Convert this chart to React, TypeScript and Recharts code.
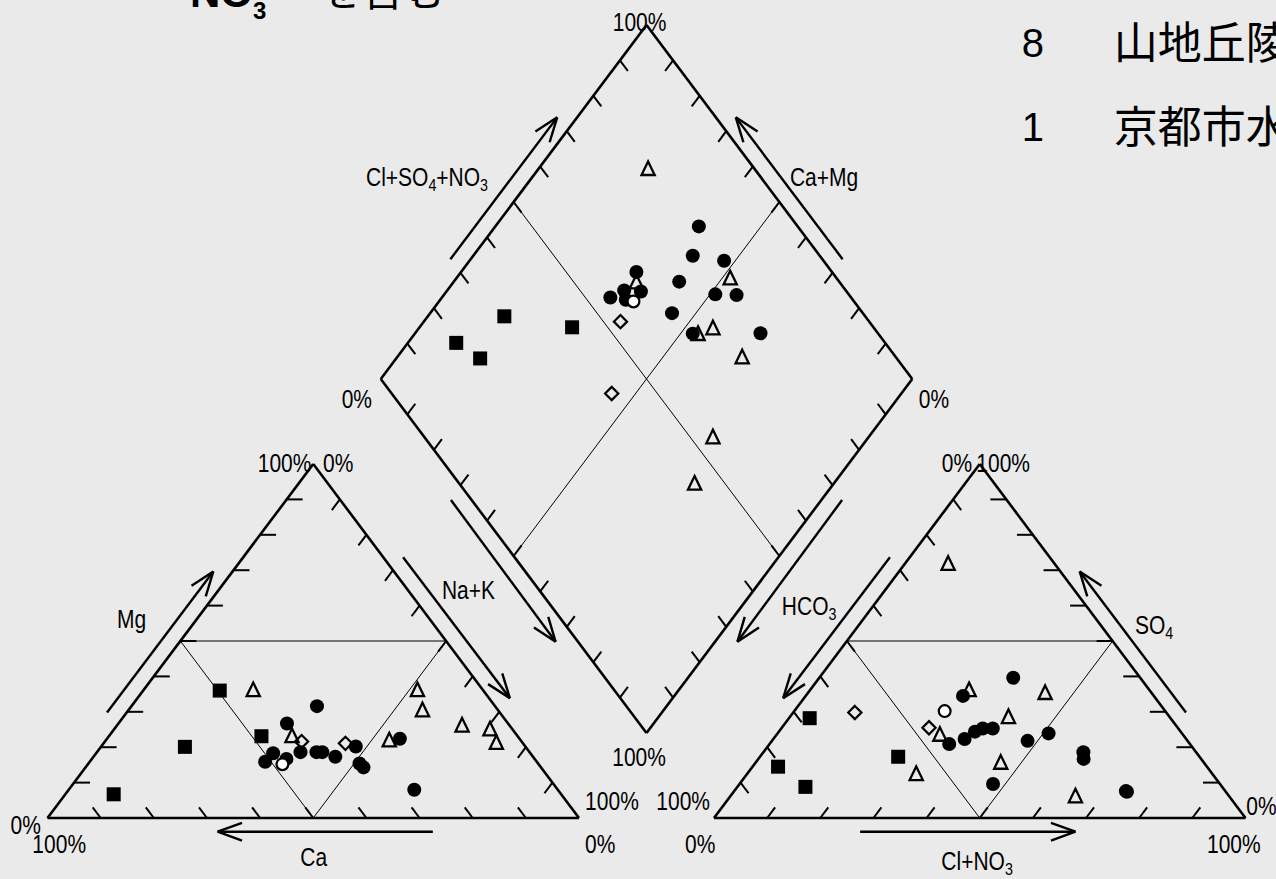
import { ScatterChart, Scatter, XAxis, YAxis, ReferenceLine, ReferenceDot } from "recharts"

// meq%, one row per sample:
// Ca, Mg, Na+K, HCO3, SO4, Cl+NO3
const filledCircles = [
  [43.1, 18.6, 38.3, 18.6, 7.4, 74.0],
  [40.1, 18.6, 41.3, 23.9, 39.6, 36.5],
  [31.9, 20.2, 47.9, 18.7, 7.6, 73.7],
  [39.0, 18.6, 42.4, 30.1, 21.8, 48.1],
  [51.1, 15.9, 33.0, 36.8, 25.3, 37.9],
  [46.7, 16.7, 36.6, 38.7, 24.4, 36.9],
  [48.4, 18.3, 33.3, 41.7, 22.3, 36.0],
  [33.5, 31.6, 34.9, 42.7, 9.6, 47.7],
  [41.6, 26.7, 31.7, 45.3, 20.9, 33.8],
  [33.6, 15.4, 51.0, 25.1, 23.9, 51.0],
  [22.5, 22.4, 55.1, 21.2, 18.6, 60.2],
  [37.2, 17.3, 45.5, 35.9, 34.5, 29.6],
  [33.4, 14.3, 52.3, 34.9, 25.3, 39.8],
  [27.0, 8.0, 65.0, 22.1, 16.7, 61.2],
]

// 山地丘陵
const openTriangles = [
  [43.3, 36.0, 20.7, 20.1, 71.7, 8.2],
  [12.4, 36.0, 51.6, 20.1, 35.2, 44.7],
  [14.3, 30.3, 55.4, 30.4, 28.4, 41.2],
  [24.8, 21.8, 53.4, 34.0, 36.0, 30.0],
  [9.0, 26.0, 65.0, 29.0, 6.0, 65.0],
  [4.3, 24.9, 70.8, 45.8, 23.4, 30.8],
  [5.0, 21.1, 73.9, 55.8, 12.3, 31.9],
  [42.5, 23.0, 34.5, 38.3, 15.5, 46.2],
]

const filledSquares = [
  [84.2, 6.7, 9.1, 80.7, 14.5, 4.8],
  [64.1, 20.1, 15.8, 78.4, 8.8, 12.8],
  [49.6, 36.0, 14.4, 67.9, 28.2, 3.9],
  [48.2, 23.1, 28.7, 56.7, 17.3, 26.0],
]

const openDiamonds = [
  [41.4, 21.6, 37.0, 46.8, 25.5, 27.7],
  [33.4, 21.1, 45.5, 58.6, 29.8, 11.6],
]

// 京都市水道水
const openCircles = [[48.2, 15.2, 36.6, 41.5, 30.2, 28.3]]

const legendCounts = ["8", "1"]
const legendNames = ["山地丘陵", "京都市水道水"]

// layout (x units: triangle side = 100)
const W = 1276
const H = 879
const TRI_H = 86.6
const K = TRI_H / 100
const GAP = 25.4
const ANION_X0 = 100 + GAP
const DIA_X = 100 + GAP / 2
const DIA_Y = 20.8
const X_DOMAIN = [-8.94, 231.14]
const Y_DOMAIN = [-14.92, 200.11]
const SX = W / (X_DOMAIN[1] - X_DOMAIN[0])
const SY = H / (Y_DOMAIN[1] - Y_DOMAIN[0])
const FONT = "'Liberation Sans', Arial, sans-serif"
const CJK = "'Noto Sans CJK JP', sans-serif"

const norm = (a: number, b: number, c: number) => {
  const t = a + b + c
  return [(a / t) * 100, (b / t) * 100, (c / t) * 100]
}

const cationPt = (r: number[]) => {
  const [, mg, nak] = norm(r[0], r[1], r[2])
  return { x: nak + mg / 2, y: mg * K }
}

const anionPt = (r: number[]) => {
  const [, so4, cl] = norm(r[3], r[4], r[5])
  return { x: ANION_X0 + cl + so4 / 2, y: so4 * K }
}

const diamondPt = (r: number[]) => {
  const nak = norm(r[0], r[1], r[2])[2]
  const hco3 = norm(r[3], r[4], r[5])[0]
  const a = 100 - hco3
  const c = 100 - nak
  return { x: DIA_X + (a - c) / 2, y: DIA_Y + (a + c) * K }
}

const toPoints = (rows: number[][]) =>
  rows.flatMap((r) => [cationPt(r), anionPt(r), diamondPt(r)])

// edges: start, per-% direction along edge, per-% tick direction
const E0 = [1, 0]
const E60 = [0.5, K]
const E120 = [-0.5, K]
const neg = (v: number[]) => [-v[0], -v[1]]

const edges = [
  { s: [0, 0], d: E0, t: E120 },
  { s: [0, 0], d: E60, t: E0 },
  { s: [100, 0], d: E120, t: neg(E60) },
  { s: [ANION_X0, 0], d: E0, t: E60 },
  { s: [ANION_X0, 0], d: E60, t: neg(E120) },
  { s: [ANION_X0 + 100, 0], d: E120, t: neg(E0) },
  { s: [DIA_X - 50, DIA_Y + TRI_H], d: E60, t: neg(E120) },
  { s: [DIA_X + 50, DIA_Y + TRI_H], d: E120, t: neg(E60) },
  { s: [DIA_X, DIA_Y], d: E120, t: E60 },
  { s: [DIA_X, DIA_Y], d: E60, t: E120 },
]

const TICK = 3
const outline: number[][] = edges.map((e) => [e.s[0], e.s[1], e.s[0] + e.d[0] * 100, e.s[1] + e.d[1] * 100])
const ticks: number[][] = edges.flatMap((e) =>
  [10, 20, 30, 40, 50, 60, 70, 80, 90].map((i) => {
    const px = e.s[0] + e.d[0] * i
    const py = e.s[1] + e.d[1] * i
    return [px, py, px + e.t[0] * TICK, py + e.t[1] * TICK]
  })
)

const innerTri = (x0: number) => [
  [x0 + 25, TRI_H / 2, x0 + 75, TRI_H / 2],
  [x0 + 25, TRI_H / 2, x0 + 50, 0],
  [x0 + 75, TRI_H / 2, x0 + 50, 0],
]
const inner: number[][] = [
  ...innerTri(0),
  ...innerTri(ANION_X0),
  [DIA_X - 25, DIA_Y + 1.5 * TRI_H, DIA_X + 25, DIA_Y + 0.5 * TRI_H],
  [DIA_X + 25, DIA_Y + 1.5 * TRI_H, DIA_X - 25, DIA_Y + 0.5 * TRI_H],
]

const arrows: number[][] = [
  [11.2, 25.8, 31.2, 60.3],
  [66.9, 63.8, 87.0, 29.3],
  [72.5, -3.35, 32.0, -3.35],
  [75.8, 136.7, 95.9, 171.4],
  [149.6, 136.7, 129.5, 171.4],
  [75.9, 77.8, 95.6, 43.1],
  [149.5, 77.8, 129.8, 43.1],
  [158.5, 63.8, 138.4, 29.3],
  [214.2, 25.8, 194.2, 60.3],
  [152.9, -3.35, 193.4, -3.35],
]

const BARB = 26
const barbs = (a: number[]) => {
  const dx = (a[2] - a[0]) * SX
  const dy = -(a[3] - a[1]) * SY
  const len = Math.hypot(dx, dy)
  const ux = -dx / len
  const uy = -dy / len
  return [20, -20].map((deg) => {
    const r = (deg * Math.PI) / 180
    const bx = ux * Math.cos(r) - uy * Math.sin(r)
    const by = ux * Math.sin(r) + uy * Math.cos(r)
    return [a[2], a[3], a[2] + (bx * BARB) / SX, a[3] - (by * BARB) / SY]
  })
}
const arrowLines = arrows.flatMap((a) => [a, ...barbs(a)])

type Part = [string, boolean?]
const axisLabels: { x: number; y: number; parts: Part[] }[] = [
  { x: 71.4, y: 156.8, parts: [["Cl+SO"], ["4", true], ["+NO"], ["3", true]] },
  { x: 146.1, y: 156.8, parts: [["Ca+Mg"]] },
  { x: 79.2, y: 55.8, parts: [["Na+K"]] },
  { x: 15.8, y: 48.7, parts: [["Mg"]] },
  { x: 50.1, y: -9.5, parts: [["Ca"]] },
  { x: 143.3, y: 51.9, parts: [["HCO"], ["3", true]] },
  { x: 208.2, y: 47.2, parts: [["SO"], ["4", true]] },
  { x: 174.9, y: -10.6, parts: [["Cl+NO"], ["3", true]] },
]

const pctLabels: [number, number, string][] = [
  [44.6, 86.8, "100%"], [54.7, 86.8, "0%"],
  [-4.1, -1.7, "0%"], [2.2, -6.4, "100%"],
  [106.2, 4.2, "100%"], [104.0, -6.4, "0%"],
  [171.1, 86.8, "0%"], [179.8, 86.8, "100%"],
  [119.6, 4.2, "100%"], [122.8, -6.4, "0%"],
  [228.4, 2.9, "0%"], [223.2, -6.4, "100%"],
  [111.4, 194.7, "100%"], [58.2, 102.5, "0%"],
  [166.8, 102.5, "0%"], [111.3, 14.9, "100%"],
]

// condensed look: Liberation Sans squeezed horizontally
function ChemText({ cx, cy, parts, size = 25 }: any) {
  let off = 0
  return (
    <text
      transform={`translate(${cx},${cy}) scale(0.84,1)`}
      x={0}
      y={size * 0.36}
      textAnchor="middle"
      fontFamily={FONT}
      fontSize={size}
      fill="#000"
    >
      {parts.map(([t, sub]: Part, i: number) => {
        const target = sub ? 5 : 0
        const dy = target - off
        off = target
        return (
          <tspan key={i} dy={dy} fontSize={sub ? 17 : size}>
            {t}
          </tspan>
        )
      })}
    </text>
  )
}

const FilledCircle = (p: any) => <circle cx={p.cx} cy={p.cy} r={7} fill="#000" />
const OpenCircle = (p: any) => <circle cx={p.cx} cy={p.cy} r={5.9} fill="#fff" stroke="#000" strokeWidth={2.2} />
const FilledSquare = (p: any) => <rect x={p.cx - 7} y={p.cy - 7} width={14} height={14} fill="#000" />
const OpenTriangle = (p: any) => (
  <path d={`M${p.cx},${p.cy - 8}L${p.cx + 6.6},${p.cy + 5.6}L${p.cx - 6.6},${p.cy + 5.6}Z`} fill="none" stroke="#000" strokeWidth={2.3} />
)
const OpenDiamond = (p: any) => (
  <path d={`M${p.cx},${p.cy - 6.6}L${p.cx + 6.6},${p.cy}L${p.cx},${p.cy + 6.6}L${p.cx - 6.6},${p.cy}Z`} fill="none" stroke="#000" strokeWidth={2.2} />
)

const seg = (l: number[], key: string, w: number) => (
  <ReferenceLine
    key={key}
    segment={[{ x: l[0], y: l[1] }, { x: l[2], y: l[3] }]}
    stroke="#000"
    strokeWidth={w}
    ifOverflow="visible"
  />
)

export default function App() {
  return (
    <div style={{ position: "fixed", left: 0, top: 0, width: W, height: H, background: "#EAEAEA", overflow: "hidden" }}>
      <ScatterChart width={W} height={H} margin={{ top: 0, right: 0, bottom: 0, left: 0 }}>
        <XAxis type="number" dataKey="x" domain={X_DOMAIN} hide allowDataOverflow />
        <YAxis type="number" dataKey="y" domain={Y_DOMAIN} hide allowDataOverflow />
        {inner.map((l, i) => seg(l, "in" + i, 1))}
        {ticks.map((l, i) => seg(l, "tk" + i, 2))}
        {outline.map((l, i) => seg(l, "ol" + i, 2.6))}
        {arrowLines.map((l, i) => seg(l, "ar" + i, 2.4))}
        {axisLabels.map((a, i) => (
          <ReferenceDot key={"al" + i} x={a.x} y={a.y} ifOverflow="visible" shape={(p: any) => <ChemText cx={p.cx} cy={p.cy} parts={a.parts} />} />
        ))}
        {pctLabels.map(([x, y, t], i) => (
          <ReferenceDot key={"pl" + i} x={x} y={y} ifOverflow="visible" shape={(p: any) => <ChemText cx={p.cx} cy={p.cy} parts={[[t]]} />} />
        ))}
        <ReferenceDot
          x={26.8}
          y={198.4}
          ifOverflow="visible"
          shape={(p: any) => (
            <g>
              <text x={p.cx} y={p.cy} fontFamily={FONT} fontWeight="bold" fontSize={42} fill="#000">
                NO<tspan fontSize={24} dy={12}>3</tspan>
                <tspan fontSize={24} dy={-30}>−</tspan>
              </text>
              <text x={p.cx + 130} y={p.cy - 1} fontFamily={CJK} fontSize={42} fill="#000">
                を含む
              </text>
            </g>
          )}
        />
        {legendCounts.map((c, i) => (
          <ReferenceDot
            key={"lg" + i}
            x={183.3}
            y={i === 0 ? 186.2 : 165.6}
            ifOverflow="visible"
            shape={(p: any) => (
              <g>
                <text x={p.cx} y={p.cy} fontFamily={FONT} fontSize={40} fill="#000">{c}</text>
                <text x={p.cx + 92} y={p.cy + 2} fontFamily={CJK} fontSize={44} fill="#000">{legendNames[i]}</text>
              </g>
            )}
          />
        ))}
        <Scatter data={toPoints(filledSquares)} shape={FilledSquare} isAnimationActive={false} />
        <Scatter data={toPoints(openTriangles)} shape={OpenTriangle} isAnimationActive={false} />
        <Scatter data={toPoints(openDiamonds)} shape={OpenDiamond} isAnimationActive={false} />
        <Scatter data={toPoints(filledCircles)} shape={FilledCircle} isAnimationActive={false} />
        <Scatter data={toPoints(openCircles)} shape={OpenCircle} isAnimationActive={false} />
      </ScatterChart>
    </div>
  )
}
